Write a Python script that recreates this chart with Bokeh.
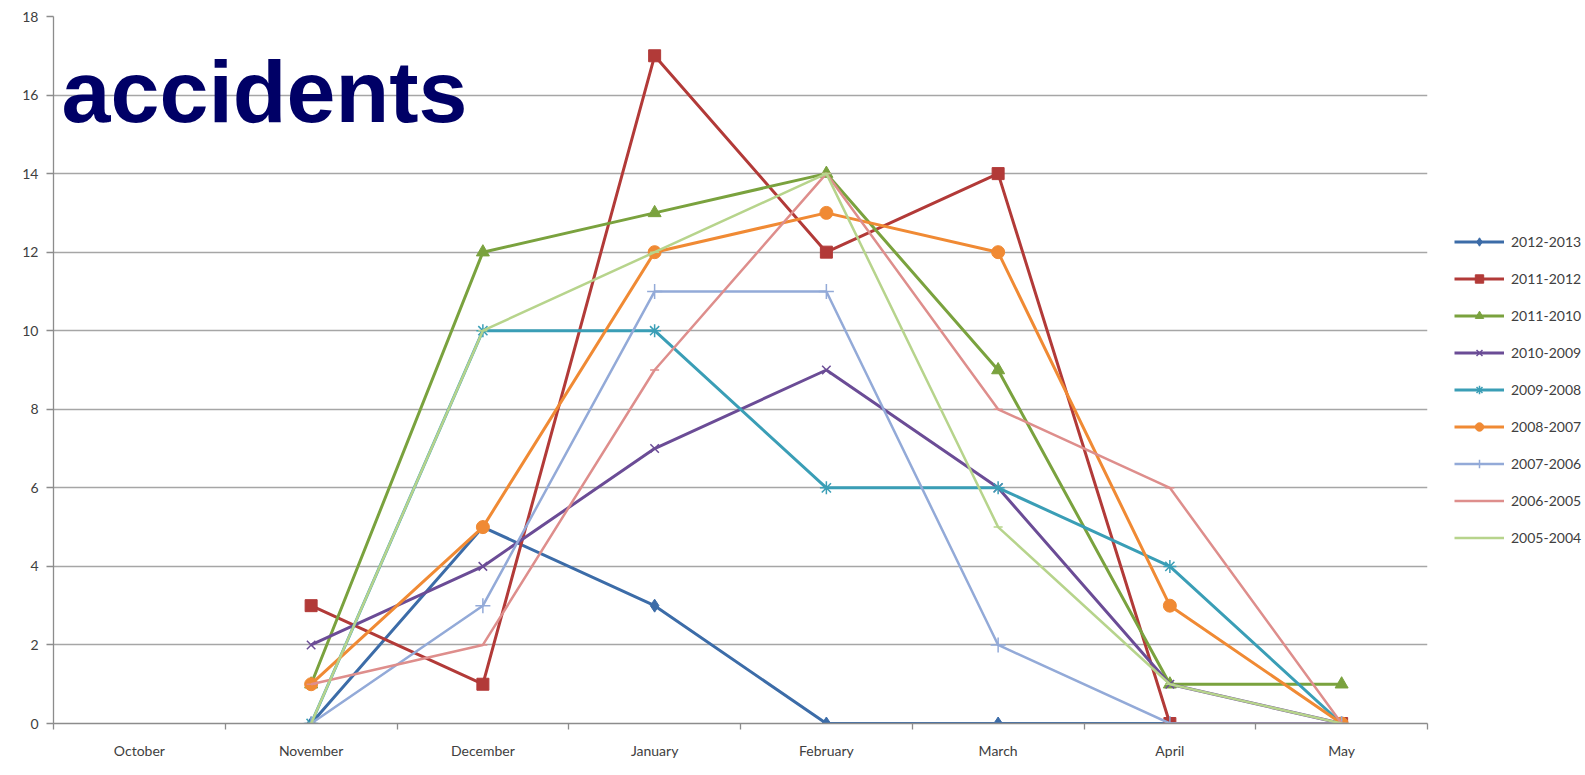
from bokeh.plotting import figure
from bokeh.models import (ColumnDataSource, FactorRange, Range1d, LinearAxis, CategoricalAxis,
                          FixedTicker, Legend, LegendItem, Label)
from bokeh.embed import file_html
from bokeh.resources import INLINE

nan = float("nan")

months = ["October", "November", "December", "January", "February", "March", "April", "May"]

s_2012_2013 = [nan, 0, 5, 3, 0, 0, 0, nan]
s_2011_2012 = [nan, 3, 1, 17, 12, 14, 0, 0]
s_2011_2010 = [nan, 1, 12, 13, 14, 9, 1, 1]
s_2010_2009 = [nan, 2, 4, 7, 9, 6, 1, 0]
s_2009_2008 = [nan, 0, 10, 10, 6, 6, 4, 0]
s_2008_2007 = [nan, 1, 5, 12, 13, 12, 3, 0]
s_2007_2006 = [nan, 0, 3, 11, 11, 2, 0, 0]
s_2006_2005 = [nan, 1, 2, 9, 14, 8, 6, 0]
s_2005_2004 = [nan, 0, 10, 12, 14, 5, 1, 0]

series_names = ["2012-2013", "2011-2012", "2011-2010", "2010-2009", "2009-2008",
                "2008-2007", "2007-2006", "2006-2005", "2005-2004"]
series_values = [s_2012_2013, s_2011_2012, s_2011_2010, s_2010_2009, s_2009_2008,
                 s_2008_2007, s_2007_2006, s_2006_2005, s_2005_2004]

y_ticks = [0, 2, 4, 6, 8, 10, 12, 14, 16, 18]

colors = ["#3C6CA8", "#B23A38", "#7AA23E", "#6B4C96", "#3A9EB6",
          "#F08A34", "#93AAD8", "#DE8E8C", "#B7D48C"]
markers = ["diamond", "square", "triangle", "x", "asterisk", "circle", "cross", "dash", "dash"]
msizes = [13, 12, 13, 12, 13, 13, 15, 9, 9]
lwidths = [3, 3, 3, 3, 3, 3, 2.5, 2.5, 2.5]

p = figure(frame_width=1374, frame_height=707, x_range=FactorRange(factors=months),
           y_range=Range1d(0, 18),
           output_backend="svg", toolbar_location=None, x_axis_location=None,
           min_border_left=53, min_border_top=16, min_border_bottom=4, min_border_right=0)
p.outline_line_color = None
p.background_fill_color = "white"
p.border_fill_color = "white"

boundaries = list(range(len(months) + 1))
tick_axis = LinearAxis(ticker=FixedTicker(ticks=boundaries),
                       major_label_overrides={i: "" for i in boundaries},
                       axis_line_color="#8C8C8C", axis_line_width=1.3,
                       major_tick_line_color="#8C8C8C", major_tick_line_width=1.3,
                       major_tick_in=0, major_tick_out=6, minor_tick_line_color=None,
                       major_label_standoff=0, major_label_text_font_size="1px")
p.add_layout(tick_axis, "below")
cat_axis = CategoricalAxis(axis_line_color=None, major_tick_line_color=None,
                           minor_tick_line_color=None, major_label_standoff=6,
                           major_label_text_font="Lato", major_label_text_font_size="14px",
                           major_label_text_color="#404040")
p.add_layout(cat_axis, "below")

p.yaxis.ticker = FixedTicker(ticks=y_ticks)
p.yaxis.axis_line_color = "#8C8C8C"
p.yaxis.axis_line_width = 1.3
p.yaxis.major_tick_line_color = "#8C8C8C"
p.yaxis.major_tick_line_width = 1.3
p.yaxis.major_tick_in = 0
p.yaxis.major_tick_out = 7
p.yaxis.minor_tick_line_color = None
p.yaxis.major_label_text_font = "Lato"
p.yaxis.major_label_text_font_size = "14px"
p.yaxis.major_label_text_color = "#404040"
p.yaxis.major_label_standoff = 8

p.xgrid.grid_line_color = None
p.ygrid.grid_line_color = "#A6A6A6"
p.ygrid.grid_line_width = 1.5
p.ygrid.ticker = FixedTicker(ticks=y_ticks)

items = []
for name, vals, c, m, ms, lw in zip(series_names, series_values, colors, markers, msizes, lwidths):
    src = ColumnDataSource(dict(x=months, y=vals))
    r1 = p.line("x", "y", source=src, line_color=c, line_width=lw)
    r2 = p.scatter("x", "y", source=src, marker=m, size=ms, fill_color=c, line_color=c,
                   line_width=1.5 if m in ("x", "asterisk", "cross", "dash") else 1)
    items.append(LegendItem(label=name, renderers=[r1, r2]))

legend = Legend(items=items, location=(27, 175), orientation="vertical",
                label_text_font="Lato", label_text_font_size="14px", label_text_color="#404040",
                glyph_width=50, glyph_height=21, label_height=21, spacing=16, padding=0,
                label_standoff=7, border_line_color=None, background_fill_alpha=0, margin=0)
p.add_layout(legend, "right")

title = Label(x=0.047, y=16.09, text="accidents", text_font="Liberation Sans",
              text_font_style="bold", text_font_size="88px", text_color="#000066",
              text_baseline="alphabetic", text_align="left")
p.add_layout(title)

open("out.html", "w").write(file_html(p, INLINE))
